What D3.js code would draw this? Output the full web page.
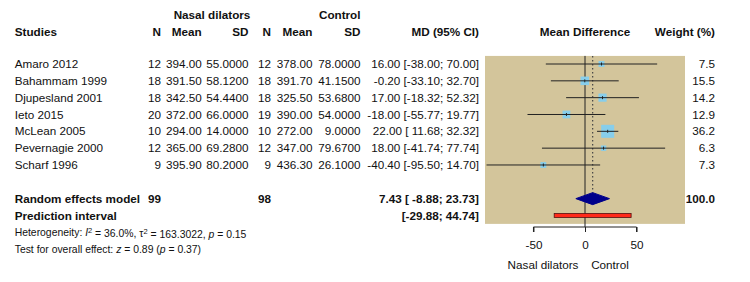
<!DOCTYPE html>
<html>
<head>
<meta charset="utf-8">
<script src="https://cdn.jsdelivr.net/npm/d3@7"></script>
<style>
  body { margin: 0; background: #fff; }
  text { font-family: "Liberation Sans", Arial, sans-serif; fill: #111; white-space: pre; }
</style>
</head>
<body>
<div id="forest"></div>
<script>
const width = 750;
const height = 282;

// study data
const studies = ["Amaro 2012", "Bahammam 1999", "Djupesland 2001", "Ieto 2015", "McLean 2005", "Pevernagie 2000", "Scharf 1996"];
const n1 = [12, 18, 18, 20, 10, 12, 9];
const mean1 = [394.00, 391.50, 342.50, 372.00, 294.00, 365.00, 395.90];
const sd1 = [55.0000, 58.1200, 54.4400, 66.0000, 14.0000, 69.2800, 80.2000];
const n2 = [12, 18, 18, 19, 10, 12, 9];
const mean2 = [378.00, 391.70, 325.50, 390.00, 272.00, 347.00, 436.30];
const sd2 = [78.0000, 41.1500, 53.6800, 54.0000, 9.0000, 79.6700, 26.1000];
const md = [16.00, -0.20, 17.00, -18.00, 22.00, 18.00, -40.40];
const lower = [-38.00, -33.10, -18.32, -55.77, 11.68, -41.74, -95.50];
const upper = [70.00, 32.70, 52.32, 19.77, 32.32, 77.74, 14.70];
const weight = [7.5, 15.5, 14.2, 12.9, 36.2, 6.3, 7.3];

// pooled results
const pooled = { md: 7.43, lower: -8.88, upper: 23.73, n1: 99, n2: 98, weight: 100.0 };
const predInterval = [-29.88, 44.74];
const xTicks = [-50, 0, 50];

const svg = d3.select("#forest")
  .append("svg")
  .attr("width", width)
  .attr("height", height);

const x = d3.scaleLinear().domain([-97, 97]).range([485, 685]);
const row = d3.scaleLinear().domain([0, 1]).range([64, 80.83]);

// plain hyphen minus like R output
const fmt2 = v => v.toFixed(2);
const fmt4 = v => v.toFixed(4);
const pad = (s, w) => " ".repeat(Math.max(0, w - s.length)) + s;
const ci = (m, l, u) => `${fmt2(m)} [${pad(fmt2(l), 6)}; ${fmt2(u)}]`;

const fs = "11.7px";

// panel background
svg.append("rect")
  .attr("x", x(-97)).attr("y", row(-0.48))
  .attr("width", x(97) - x(-97))
  .attr("height", row(9.5) - row(-0.48))
  .attr("fill", "#d3c59b");

// headers
const hdr = svg.append("g").style("font-size", fs).style("font-weight", "bold");
hdr.append("text").attr("x", 212).attr("y", 14.7).attr("dy", "0.35em")
  .attr("text-anchor", "middle").text("Nasal dilators");
hdr.append("text").attr("x", 360.5).attr("y", 14.7).attr("dy", "0.35em")
  .attr("text-anchor", "end").text("Control");

const cols = [
  { x: 14.7, anchor: "start", label: "Studies" },
  { x: 161, anchor: "end", label: "N" },
  { x: 201.7, anchor: "end", label: "Mean" },
  { x: 248.5, anchor: "end", label: "SD" },
  { x: 271, anchor: "end", label: "N" },
  { x: 312.5, anchor: "end", label: "Mean" },
  { x: 360.5, anchor: "end", label: "SD" },
  { x: 479, anchor: "end", label: "MD (95% CI)" },
  { x: 585, anchor: "middle", label: "Mean Difference" },
  { x: 715, anchor: "end", label: "Weight (%)" }
];
cols.forEach(c => {
  hdr.append("text").attr("x", c.x).attr("y", 32.3).attr("dy", "0.35em")
    .attr("text-anchor", c.anchor).text(c.label);
});

// study rows
const body = svg.append("g").style("font-size", fs);
studies.forEach((s, i) => {
  const cells = [s, n1[i], fmt2(mean1[i]), fmt4(sd1[i]), n2[i], fmt2(mean2[i]), fmt4(sd2[i]),
    ci(md[i], lower[i], upper[i]), null, weight[i].toFixed(1)];
  cells.forEach((v, j) => {
    if (v === null) return;
    body.append("text").attr("x", cols[j].x).attr("y", row(i)).attr("dy", "0.35em")
      .attr("text-anchor", cols[j].anchor).text(v);
  });
});

// pooled rows
const bold = svg.append("g").style("font-size", fs).style("font-weight", "bold");
bold.append("text").attr("x", cols[0].x).attr("y", row(8)).attr("dy", "0.35em").text("Random effects model");
bold.append("text").attr("x", cols[1].x).attr("y", row(8)).attr("dy", "0.35em").attr("text-anchor", "end").text(pooled.n1);
bold.append("text").attr("x", cols[4].x).attr("y", row(8)).attr("dy", "0.35em").attr("text-anchor", "end").text(pooled.n2);
bold.append("text").attr("x", cols[7].x).attr("y", row(8)).attr("dy", "0.35em").attr("text-anchor", "end")
  .text(ci(pooled.md, pooled.lower, pooled.upper));
bold.append("text").attr("x", cols[9].x).attr("y", row(8)).attr("dy", "0.35em").attr("text-anchor", "end")
  .text(pooled.weight.toFixed(1));
bold.append("text").attr("x", cols[0].x).attr("y", row(9)).attr("dy", "0.35em").text("Prediction interval");
bold.append("text").attr("x", cols[7].x).attr("y", row(9)).attr("dy", "0.35em").attr("text-anchor", "end")
  .text(`[${fmt2(predInterval[0])}; ${fmt2(predInterval[1])}]`);

// heterogeneity notes
const note = svg.append("g").style("font-size", "10.4px");
const het = note.append("text").attr("x", cols[0].x).attr("y", row(10)).attr("dy", "0.35em");
het.append("tspan").text("Heterogeneity: ");
het.append("tspan").style("font-style", "italic").text("I");
het.append("tspan").attr("dy", "-0.4em").style("font-size", "7.5px").text("2");
het.append("tspan").attr("dy", "0.4em").text(" = 36.0%, \u03c4");
het.append("tspan").attr("dy", "-0.4em").style("font-size", "7.5px").text("2");
het.append("tspan").attr("dy", "0.4em").text(" = 163.3022, ");
het.append("tspan").style("font-style", "italic").text("p");
het.append("tspan").text(" = 0.15");

const test = note.append("text").attr("x", cols[0].x).attr("y", row(11)).attr("dy", "0.35em");
test.append("tspan").text("Test for overall effect: ");
test.append("tspan").style("font-style", "italic").text("z");
test.append("tspan").text(" = 0.89 (");
test.append("tspan").style("font-style", "italic").text("p");
test.append("tspan").text(" = 0.37)");

// reference lines
svg.append("line")
  .attr("x1", x(0)).attr("x2", x(0))
  .attr("y1", row(-0.48)).attr("y2", 227)
  .attr("stroke", "#222").attr("stroke-width", 1);
svg.append("line")
  .attr("x1", x(pooled.md)).attr("x2", x(pooled.md))
  .attr("y1", row(-0.48)).attr("y2", row(8) - 6)
  .attr("stroke", "#444").attr("stroke-width", 1.2)
  .attr("stroke-dasharray", "1.5,2.5");

// CI lines and squares
const maxW = d3.max(weight);
const side = d3.scaleSqrt().domain([0, maxW]).range([0, 13]);
studies.forEach((s, i) => {
  svg.append("rect")
    .attr("x", x(md[i]) - side(weight[i]) / 2)
    .attr("y", row(i) - side(weight[i]) / 2)
    .attr("width", side(weight[i])).attr("height", side(weight[i]))
    .attr("fill", "#87ceeb");
  svg.append("line")
    .attr("x1", x(Math.max(lower[i], -97))).attr("x2", x(Math.min(upper[i], 97)))
    .attr("y1", row(i)).attr("y2", row(i))
    .attr("stroke", "#222").attr("stroke-width", 1);
  svg.append("line")
    .attr("x1", x(md[i])).attr("x2", x(md[i]))
    .attr("y1", row(i) - 1.5).attr("y2", row(i) + 1.5)
    .attr("stroke", "#222").attr("stroke-width", 1);
});

// pooled diamond
const yd = row(8);
svg.append("path")
  .attr("d", `M${x(pooled.lower)},${yd} L${x(pooled.md)},${yd - 6} L${x(pooled.upper)},${yd} L${x(pooled.md)},${yd + 6} Z`)
  .attr("fill", "#00008b").attr("stroke", "#00008b");

// prediction interval bar
svg.append("rect")
  .attr("x", x(predInterval[0])).attr("y", row(9) - 2)
  .attr("width", x(predInterval[1]) - x(predInterval[0])).attr("height", 4)
  .attr("fill", "#ff2a1a").attr("stroke", "#551111").attr("stroke-width", 0.8);

// axis
const axis = svg.append("g")
  .attr("transform", "translate(0,227)")
  .call(d3.axisBottom(x).tickValues(xTicks).tickSize(5).tickPadding(9).tickFormat(d => String(d)));
axis.select(".domain").attr("d", `M${x(-50)},5V0H${x(50)}V5`).attr("stroke", "#222");
axis.selectAll(".tick line").attr("stroke", "#222");
axis.selectAll(".tick text")
  .style("font-family", "Liberation Sans, Arial, sans-serif")
  .style("font-size", fs).attr("fill", "#111");

svg.append("text").attr("x", 543).attr("y", 265).attr("dy", "0.35em")
  .attr("text-anchor", "middle").style("font-size", fs).text("Nasal dilators");
svg.append("text").attr("x", 610).attr("y", 265).attr("dy", "0.35em")
  .attr("text-anchor", "middle").style("font-size", fs).text("Control");
</script>
</body>
</html>
